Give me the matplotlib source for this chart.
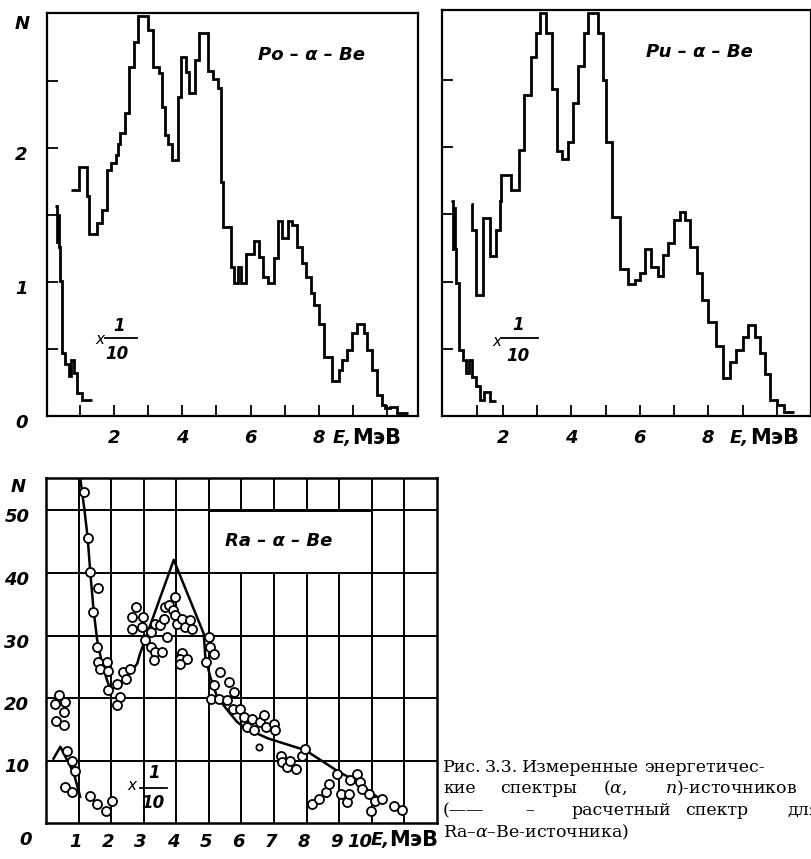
import matplotlib
matplotlib.use('Agg')
import matplotlib.pyplot as plt
from matplotlib.lines import Line2D
from matplotlib.patches import Rectangle
from matplotlib.transforms import ScaledTranslation

plt.rcParams['font.family'] = ['DejaVu Sans']
plt.rcParams['mathtext.fontset'] = 'custom'
plt.rcParams['mathtext.it'] = 'DejaVu Serif:italic'
plt.rcParams['mathtext.rm'] = 'DejaVu Serif'

W, H, DPI = 812, 859, 100

# ---------------- data ----------------
# Po-alpha-Be spectrum (step histogram)
po_edges = [0.75, 0.98, 1.20, 1.28, 1.50, 1.64, 1.81, 1.91, 2.05, 2.13, 2.19, 2.32, 2.45, 2.59,
            2.71, 3.00, 3.15, 3.32, 3.42, 3.50, 3.58, 3.71, 3.87, 3.97, 4.12, 4.19, 4.36, 4.49,
            4.75, 4.89, 5.04, 5.14, 5.20, 5.43, 5.52, 5.62, 5.72, 5.86, 6.11, 6.25, 6.35, 6.50,
            6.69, 6.79, 6.91, 7.08, 7.22, 7.37, 7.51, 7.61, 7.76, 7.85, 8.00, 8.15, 8.39, 8.58,
            8.68, 8.83, 8.97, 9.12, 9.31, 9.41, 9.55, 9.70, 9.84, 9.94, 10.09, 10.28, 10.62]
po_counts = [1.69, 1.86, 1.64, 1.36, 1.44, 1.54, 1.84, 1.89, 1.95, 2.03, 2.11, 2.26, 2.61, 2.79,
             2.99, 2.88, 2.61, 2.56, 2.31, 2.10, 2.03, 1.91, 2.38, 2.68, 2.57, 2.41, 2.66, 2.86,
             2.58, 2.52, 2.45, 1.75, 1.41, 1.11, 0.99, 1.11, 0.99, 1.21, 1.31, 1.19, 1.04, 0.99,
             1.18, 1.46, 1.33, 1.46, 1.43, 1.26, 1.14, 1.04, 0.92, 0.83, 0.69, 0.44, 0.26, 0.34,
             0.42, 0.49, 0.62, 0.69, 0.62, 0.49, 0.34, 0.16, 0.08, 0.06, 0.07, 0.02]
po_low_edges = [0.28, 0.32, 0.35, 0.38, 0.41, 0.48, 0.57, 0.67, 0.74, 0.82, 0.91, 1.06, 1.35]
po_low_counts = [1.57, 1.30, 1.50, 1.26, 1.01, 0.47, 0.39, 0.30, 0.42, 0.32, 0.17, 0.12]

# Pu-alpha-Be spectrum
pu_edges = [1.07, 1.10, 1.22, 1.41, 1.61, 1.80, 1.90, 1.95, 2.24, 2.47, 2.63, 2.83, 2.98, 3.07,
            3.27, 3.44, 3.59, 3.74, 3.90, 4.05, 4.20, 4.36, 4.49, 4.78, 4.91, 5.02, 5.20, 5.41,
            5.66, 5.85, 6.00, 6.15, 6.34, 6.54, 6.68, 6.83, 7.00, 7.17, 7.32, 7.46, 7.66, 7.83,
            8.00, 8.22, 8.44, 8.63, 8.81, 9.00, 9.17, 9.37, 9.51, 9.66, 9.80, 10.00, 10.20, 10.49]
pu_counts = [1.58, 1.38, 0.90, 1.47, 1.19, 1.38, 1.60, 1.79, 1.68, 1.98, 2.39, 2.67, 2.85, 3.00,
             2.85, 2.43, 1.97, 1.91, 2.04, 2.33, 2.60, 2.85, 3.00, 2.85, 2.50, 2.04, 1.48, 1.09,
             0.98, 1.01, 1.06, 1.24, 1.11, 1.04, 1.20, 1.29, 1.46, 1.52, 1.46, 1.26, 1.06, 0.86,
             0.70, 0.52, 0.28, 0.40, 0.49, 0.59, 0.68, 0.59, 0.47, 0.31, 0.12, 0.08, 0.03]
pu_low_edges = [0.49, 0.53, 0.56, 0.60, 0.63, 0.73, 0.83, 0.93, 1.02, 1.10, 1.22, 1.32, 1.46, 1.61, 1.80]
pu_low_counts = [1.60, 1.24, 1.55, 1.24, 0.99, 0.49, 0.42, 0.32, 0.42, 0.29, 0.22, 0.12, 0.18, 0.11]

# Ra-alpha-Be measured points
ra_E = [1.18, 1.28, 1.34, 1.59, 1.44, 1.57, 1.59, 1.65, 1.87, 1.89, 1.89,
        2.18, 2.26, 2.18, 2.36, 2.44, 2.59,
        2.77, 2.64, 2.98, 2.64, 2.95, 3.03, 3.22, 3.22, 3.36, 3.33, 3.56, 3.31,
        3.49, 3.61, 3.66, 3.77, 3.97, 3.90, 3.97, 4.02, 4.18, 3.72, 4.28, 4.41, 4.48,
        4.18, 4.12, 4.33, 4.10,
        5.00, 5.03, 5.15, 4.92, 5.35, 5.61, 5.15, 5.05, 5.30, 5.56, 5.76, 5.74, 5.95,
        6.07, 6.17, 6.38, 6.32, 6.58, 6.68, 6.74, 6.99, 7.04,
        7.20, 7.25, 7.40, 7.48, 7.66, 7.86, 7.96, 8.17, 8.37, 8.58, 8.68, 8.94, 9.04,
        9.24, 9.29, 9.34, 9.55, 9.65, 9.70, 9.91, 9.96, 10.11, 10.32, 10.68, 10.93]
ra_N = [53.0, 45.6, 40.1, 37.6, 33.7, 28.2, 25.8, 24.6, 25.8, 24.4, 21.3,
        22.3, 20.2, 18.9, 24.2, 23.1, 24.7,
        34.6, 33.0, 33.0, 31.1, 31.4, 29.3, 30.6, 28.2, 31.9, 27.4, 27.4, 26.1,
        31.7, 32.7, 34.6, 34.9, 36.2, 34.1, 33.3, 31.9, 32.7, 29.8, 31.4, 32.5, 31.1,
        27.2, 26.3, 26.3, 25.5,
        29.8, 28.2, 27.1, 25.8, 24.2, 22.6, 22.1, 19.9, 19.9, 19.7, 21.0, 18.3, 18.3,
        17.0, 15.4, 14.9, 16.7, 16.2, 17.3, 15.4, 15.9, 14.9,
        10.8, 9.8, 9.0, 10.0, 8.7, 10.8, 11.9, 3.1, 3.9, 5.0, 6.3, 7.9, 4.7,
        3.4, 4.7, 6.9, 7.9, 6.6, 5.5, 4.7, 2.0, 3.6, 3.9, 2.8, 2.1]
ra_small_E = [6.53]
ra_small_N = [12.2]
# Ra points on the x1/10 scale
ra_low_E = [0.39, 0.29, 0.59, 0.54, 0.30, 0.54, 0.63, 0.80, 0.90, 0.57, 0.81, 1.36, 1.57, 1.84, 2.04]
ra_low_N = [20.5, 19.1, 19.4, 17.8, 16.3, 15.7, 11.5, 10.0, 8.3, 5.8, 5.0, 4.3, 3.1, 2.0, 3.6]
# calculated spectrum (solid lines)
calc_E = [1.05, 1.18, 1.28, 1.36, 1.46, 1.57, 1.72, 1.87, 1.98, 2.2, 2.5, 2.8, 2.88,
          3.92, 4.84, 4.89, 5.04, 5.25, 5.56, 5.86, 6.1, 6.4, 6.83, 7.96, 8.98, 9.34, 10.16]
calc_N = [55.2, 50.1, 45.6, 40.0, 34.1, 29.3, 25.5, 22.9, 21.3, 22.0, 23.5, 25.5, 27.0,
          42.1, 30.3, 26.6, 23.4, 20.2, 18.1, 16.2, 15.2, 14.5, 13.5, 11.65, 8.2, 7.2, 4.2]
calc_low_E = [0.23, 0.44, 0.85, 1.05]
calc_low_N = [10.3, 12.2, 8.0, 4.2]

# ---------------- figure ----------------
fig = plt.figure(figsize=(W / DPI, H / DPI), dpi=DPI)


def rect(l, t, r, b):
    return [l / W, 1 - b / H, (r - l) / W, (b - t) / H]


def ftext(x, y, s, **kw):
    return fig.text(x / W, 1 - y / H, s, **kw)


def fline(x0, x1, y, lw=1.3):
    fig.add_artist(Line2D([x0 / W, x1 / W], [1 - y / H, 1 - y / H], color='black', lw=lw,
                          transform=fig.transFigure))


LAB = dict(family='DejaVu Sans', style='italic', weight='bold', size=13)
UNIT = dict(family='DejaVu Sans', weight='bold', size=15)


def fraction(xx, yx, x1, y1, xl0, xl1, yl, x10, y10):
    ftext(xx, yx, 'x', family='DejaVu Sans', style='italic', size=11, ha='center', va='center')
    ftext(x1, y1, '1', ha='center', va='center', **{**LAB, 'size': 12})
    fline(xl0, xl1, yl)
    ftext(x10, y10, '10', ha='center', va='center', **{**LAB, 'size': 12})


def shift(labels, dx_px, dy_px):
    for lab in labels:
        lab.set_transform(lab.get_transform() +
                          ScaledTranslation(dx_px / DPI, dy_px / DPI, fig.dpi_scale_trans))


def hist_axes(ax, xlim, ylim, xticks, xlabels):
    ax.set_xlim(*xlim)
    ax.set_ylim(*ylim)
    for s in ax.spines.values():
        s.set_linewidth(1.6)
    ax.set_xticks(xticks)
    ax.set_xticklabels(xlabels, fontdict=LAB)
    ax.tick_params(direction='in', length=8, width=1.3, pad=9)


# Po panel
ax1 = fig.add_axes(rect(47, 13, 418, 416))
ax1.stairs(po_counts, po_edges, baseline=None, color='black', lw=2.0)
ax1.stairs(po_low_counts, po_low_edges, baseline=None, color='black', lw=2.0)
hist_axes(ax1, (0.04, 10.9), (0, 3.01), list(range(1, 11)),
          ['', '2', '', '4', '', '6', '', '8', '', ''])
ax1.set_yticks([0, 0.5, 1, 1.5, 2, 2.5])
ax1.set_yticklabels(['0', '', '1', '', '2', ''], fontdict=LAB)
ax1.tick_params(axis='y', pad=14)
shift(ax1.get_yticklabels(), 0, -5)
ftext(22, 24, 'N', ha='center', va='center', **LAB)
ftext(312, 55, 'Po – α – Be', ha='center', va='center', **LAB)
ftext(333, 438, 'E,', ha='left', va='center', **LAB)
ftext(352, 438, 'МэВ', ha='left', va='center', **UNIT)
fraction(100, 340, 119, 326, 105, 137, 338, 117, 354)

# Pu panel
ax2 = fig.add_axes(rect(442, 10, 811, 416))
ax2.stairs(pu_counts, pu_edges, baseline=None, color='black', lw=2.0)
ax2.stairs(pu_low_counts, pu_low_edges, baseline=None, color='black', lw=2.0)
hist_axes(ax2, (0.22, 11.0), (0, 3.02), [1.25] + list(range(2, 11)),
          ['', '2', '', '4', '', '6', '', '8', '', ''])
ax2.set_yticks([0.5, 1, 1.5, 2, 2.5])
ax2.set_yticklabels([])
ftext(699, 52, 'Pu – α – Be', ha='center', va='center', **LAB)
ftext(730, 438, 'E,', ha='left', va='center', **LAB)
ftext(750, 438, 'МэВ', ha='left', va='center', **UNIT)
fraction(497, 341, 518, 325, 502, 538, 338, 518, 356)

# Ra panel
ax3 = fig.add_axes(rect(46, 478, 437, 823))
ax3.set_xlim(0, 12)
ax3.set_ylim(0, 55.2)
ax3.set_xticks(list(range(1, 12)))
ax3.set_xticklabels([str(i) for i in range(1, 11)] + [''], fontdict=LAB)
ax3.set_yticks([10, 20, 30, 40, 50])
ax3.set_yticklabels(['10', '20', '30', '40', '50'], fontdict=LAB)
ax3.tick_params(length=0, pad=7)
ax3.tick_params(axis='y', pad=12)
xl = ax3.get_xticklabels()
shift(xl[:9], -3, 0)
shift(xl[9:10], -12, 0)
shift(ax3.get_yticklabels(), 0, -5)
ax3.grid(True, color='black', lw=1.4)
ax3.set_axisbelow(True)
for s in ax3.spines.values():
    s.set_linewidth(1.8)
ax3.add_patch(Rectangle((5, 40), 5, 10, facecolor='white', edgecolor='black', lw=1.4, zorder=1))
ax3.plot(calc_E, calc_N, color='black', lw=1.8, zorder=2)
ax3.plot(calc_low_E, calc_low_N, color='black', lw=1.8, zorder=2)
ax3.plot(ra_E, ra_N, 'o', mfc='white', mec='black', ms=6.5, mew=1.3, zorder=3)
ax3.plot(ra_low_E, ra_low_N, 'o', mfc='white', mec='black', ms=6.5, mew=1.3, zorder=3)
ax3.plot(ra_small_E, ra_small_N, 'o', mfc='white', mec='black', ms=4.5, mew=1.3, zorder=3)
ax3.text(7.13, 45.1, 'Ra – α – Be', ha='center', va='center', zorder=4, **LAB)
ftext(18, 487, 'N', ha='center', va='center', **LAB)
ftext(26, 840, '0', ha='center', va='center', **LAB)
ftext(371, 840, 'E,', ha='left', va='center', **LAB)
ftext(389, 840, 'МэВ', ha='left', va='center', **UNIT)
fraction(132, 786, 154, 773, 140, 167, 788, 153, 803)

# Caption
CAP = dict(family='DejaVu Serif', size=12.5, va='baseline', ha='left')
ftext(443, 772, 'Рис.', **CAP)
ftext(485, 772, '3.3.', **CAP)
ftext(522, 772, 'Измеренные', **CAP)
ftext(644, 772, 'энергетичес-', **CAP)
ftext(443, 793, 'кие', **CAP)
ftext(500, 793, 'спектры', **CAP)
ftext(603, 793, r'($\alpha$,', **CAP)
ftext(665, 793, r'$n$)-источников', **CAP)
ftext(443, 815, '(——', **CAP)
ftext(525, 815, '–', **CAP)
ftext(572, 815, 'расчетный', **CAP)
ftext(685, 815, 'спектр', **CAP)
ftext(787, 815, 'для', **CAP)
ftext(443, 837, r'Ra–$\alpha$–Be-источника)', **CAP)

fig.savefig('out.png', dpi=DPI)
